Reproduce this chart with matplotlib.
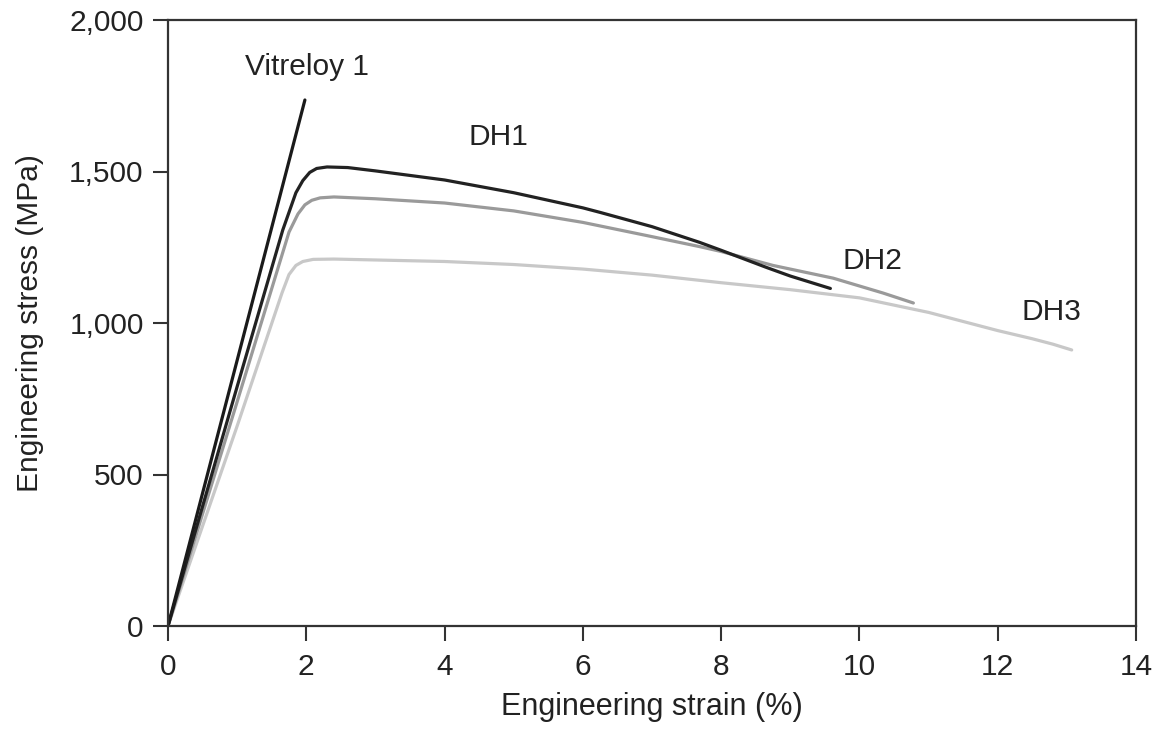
import matplotlib.pyplot as plt

plt.rcParams['font.family'] = ['Liberation Sans', 'DejaVu Sans']

# strain (%) / stress (MPa)
vit_x = [0, 1.98]
vit_y = [0, 1736]

dh1_x = [0, 1.0, 1.66, 1.85, 1.95, 2.05, 2.15, 2.3, 2.6, 3.0, 4.0, 5.0, 6.0, 6.25, 7.0, 7.69, 8.0, 8.66, 9.0, 9.58]
dh1_y = [0, 790, 1307, 1430, 1470, 1497, 1510, 1515, 1513, 1502, 1472, 1430, 1380, 1365, 1318, 1266, 1240, 1183, 1155, 1114]

dh2_x = [0, 1.0, 1.75, 1.88, 1.98, 2.08, 2.2, 2.4, 3.0, 4.0, 5.0, 6.0, 7.0, 7.69, 8.0, 8.75, 9.62, 10.34, 10.78]
dh2_y = [0, 740, 1300, 1360, 1390, 1405, 1413, 1416, 1410, 1396, 1370, 1332, 1285, 1252, 1236, 1190, 1148, 1099, 1066]

dh3_x = [0, 1.0, 1.65, 1.75, 1.85, 1.95, 2.1, 2.4, 3.0, 4.0, 5.0, 6.0, 7.0, 8.0, 9.0, 10.0, 11.0, 12.0, 12.5, 12.8, 13.07]
dh3_y = [0, 660, 1100, 1160, 1190, 1203, 1210, 1211, 1208, 1203, 1193, 1178, 1158, 1133, 1110, 1083, 1035, 975, 948, 930, 911]

fig = plt.figure(figsize=(11.64, 7.38), dpi=100)
ax = fig.add_axes([168/1164, 1 - 626/738, (1136-168)/1164, (626-20)/738])

ax.plot(dh3_x, dh3_y, color='#c8c8c8', lw=2.3, solid_capstyle='round', solid_joinstyle='round')
ax.plot(dh2_x, dh2_y, color='#9a9a9a', lw=2.3, solid_capstyle='round', solid_joinstyle='round')
ax.plot(dh1_x, dh1_y, color='#222222', lw=2.3, solid_capstyle='round', solid_joinstyle='round')
ax.plot(vit_x, vit_y, color='#1a1a1a', lw=2.3, solid_capstyle='round')

ax.text(1.11, 1845, 'Vitreloy 1', fontsize=21.5, color='#222222', va='center', ha='left')
ax.text(4.34, 1614, 'DH1', fontsize=21.5, color='#222222', va='center', ha='left')
ax.text(9.76, 1205, 'DH2', fontsize=21.5, color='#222222', va='center', ha='left')
ax.text(12.35, 1036, 'DH3', fontsize=21.5, color='#222222', va='center', ha='left')

ax.set_xlim(0, 14)
ax.set_ylim(0, 2000)
ax.set_xticks(range(0, 15, 2))
ax.set_yticks([0, 500, 1000, 1500, 2000])
ax.set_yticklabels(['0', '500', '1,000', '1,500', '2,000'])

for s in ax.spines.values():
    s.set_linewidth(1.6)
    s.set_color('#333333')

ax.tick_params(length=10.5, width=1.5, color='#333333', labelsize=21.5,
               labelcolor='#222222')
ax.tick_params(axis='x', pad=9)
ax.tick_params(axis='y', pad=7)

ax.set_xlabel('Engineering strain (%)', fontsize=22, color='#222222', labelpad=8)
ax.set_ylabel('Engineering stress (MPa)', fontsize=21.5, color='#222222', labelpad=18)

fig.savefig('out.png', dpi=100)
